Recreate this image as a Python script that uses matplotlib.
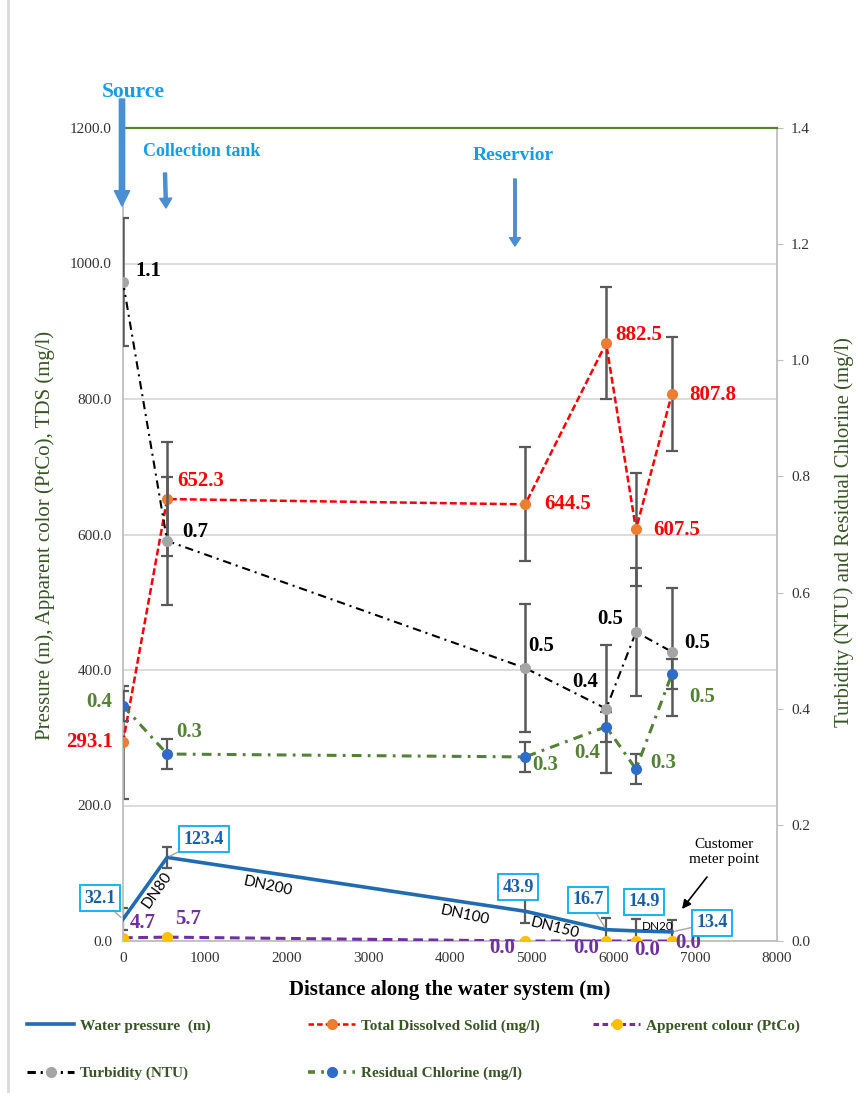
import matplotlib
matplotlib.use('Agg')
import matplotlib.pyplot as plt
from matplotlib.lines import Line2D
from matplotlib.patches import FancyArrowPatch
from matplotlib.ticker import FormatStrFormatter

plt.rcParams['font.family'] = ['Liberation Serif', 'DejaVu Serif']
plt.rcParams['lines.scale_dashes'] = False

# ---------------- data ----------------
distance = [0, 540, 4920, 5910, 6275, 6715]
pressure = [32.1, 123.4, 43.9, 16.7, 14.9, 13.4]
pressure_err = [16, 16, 18, 17, 18, 17]
tds = [293.1, 652.3, 644.5, 882.5, 607.5, 807.8]
tds_err = [84, 84, 84, 83, 84, 84]
colour = [4.7, 5.7, 0.0, 0.0, 0.0, 0.0]
turbidity = [1.135, 0.689, 0.470, 0.400, 0.532, 0.498]
turbidity_err = [0.11, 0.11, 0.11, 0.11, 0.11, 0.11]
chlorine = [0.405, 0.322, 0.317, 0.369, 0.296, 0.460]
chlorine_err = [0.026, 0.026, 0.026, 0.026, 0.026, 0.026]
pipe_labels = ['DN80', 'DN200', 'DN100', 'DN150', 'DN20']
pipe_pos = [(416, 75), (1774, 81), (4183, 38), (5284, 19), (6544, 21)]
stations = ['Source', 'Collection tank', 'Reservior']
x_ticks = [0, 1000, 2000, 3000, 4000, 5000, 6000, 7000, 8000]
left_ticks = [0, 200, 400, 600, 800, 1000, 1200]
right_ticks = [0.0, 0.2, 0.4, 0.6, 0.8, 1.0, 1.2, 1.4]

# ---------------- colours ----------------
C_PRESS = '#1F6BB5'
C_TDS = '#FF0000'
C_TDS_M = '#ED7D31'
C_COL = '#7030A0'
C_COL_M = '#FFC000'
C_TURB = '#000000'
C_TURB_M = '#A5A5A5'
C_CL = '#548235'
C_CL_M = '#2F6BC9'
C_ERR = '#595959'
C_AX_TXT = '#375623'
C_STATION = '#139EE6'
C_ARROW = '#4A8FD4'

W, H = 856, 1093
fig = plt.figure(figsize=(W / 100, H / 100), dpi=100)
ax = fig.add_axes([123 / W, 152 / H, 654 / W, 813 / H])
ax2 = ax.twinx()

# ---------------- left axis series ----------------
ax.errorbar(distance, pressure, yerr=pressure_err, fmt='none', ecolor=C_ERR,
            elinewidth=1.6, capsize=3.5, capthick=1.6, zorder=2)
ax.errorbar(distance, tds, yerr=tds_err, fmt='none', ecolor=C_ERR,
            elinewidth=1.8, capsize=4, capthick=1.6, zorder=2)
ax.plot(distance, pressure, color=C_PRESS, lw=2.6, zorder=3)
ax.plot(distance, tds, color=C_TDS, lw=1.8, dashes=(5, 2.2), marker='o',
        ms=7, mfc=C_TDS_M, mec=C_TDS_M, zorder=4)
ax.plot(distance, colour, color=C_COL, lw=2.2, dashes=(7, 4), marker='o',
        ms=7, mfc=C_COL_M, mec=C_COL_M, zorder=4)

ax.set_xlim(0, 8000)
ax.set_ylim(0, 1200)
ax.set_xticks(x_ticks)
ax.set_yticks(left_ticks)
ax.yaxis.set_major_formatter(FormatStrFormatter('%.1f'))
ax.tick_params(axis='both', length=0, labelsize=11, colors='#333333', pad=8)
ax.grid(axis='y', color='#D9D9D9', lw=1.3, zorder=0)
ax.set_axisbelow(True)
for s in ['left', 'bottom']:
    ax.spines[s].set_color('#BFBFBF')
    ax.spines[s].set_linewidth(1.3)
ax.spines['right'].set_visible(False)
ax.spines['top'].set_color(C_CL)
ax.spines['top'].set_linewidth(1.5)

# ---------------- right axis series ----------------
ax2.errorbar(distance, turbidity, yerr=turbidity_err, fmt='none', ecolor=C_ERR,
             elinewidth=1.8, capsize=4, capthick=1.6, zorder=2)
ax2.errorbar(distance, chlorine, yerr=chlorine_err, fmt='none', ecolor=C_ERR,
             elinewidth=1.6, capsize=4, capthick=1.6, zorder=2)
ax2.plot(distance, turbidity, color=C_TURB, lw=1.5, dashes=(6, 3.5, 1.5, 3.5),
         marker='o', ms=7, mfc=C_TURB_M, mec=C_TURB_M, zorder=4)
ax2.plot(distance, chlorine, color=C_CL, lw=2.2, dashes=(7, 4.5, 2, 4.5),
         marker='o', ms=7, mfc=C_CL_M, mec=C_CL_M, zorder=4)
ax2.set_ylim(0, 1.4)
ax2.set_yticks(right_ticks)
ax2.yaxis.set_major_formatter(FormatStrFormatter('%.1f'))
ax2.tick_params(axis='y', length=4, color='#BFBFBF', labelsize=11,
                labelcolor='#333333', pad=6)
ax2.spines['right'].set_color('#BFBFBF')
ax2.spines['right'].set_linewidth(1.3)
ax2.spines['left'].set_visible(False)
ax2.spines['bottom'].set_visible(False)
ax2.spines['top'].set_color(C_CL)
ax2.spines['top'].set_linewidth(1.5)

# ---------------- data labels ----------------
lab_kw = dict(textcoords='offset pixels', ha='center', va='center',
              fontsize=15, fontweight='bold', zorder=6)
turb_off = [(25, 11), (28, 9), (16, 22), (-21, 27), (-26, 13), (25, 9)]
for x, v, o in zip(distance, turbidity, turb_off):
    ax2.annotate(f'{v:.1f}', (x, v), xytext=o, color='#000000', **lab_kw)

tds_off = [(-33, 0), (34, 18), (42, 0), (33, 8), (41, -1), (41, -1)]
for x, v, o in zip(distance, tds, tds_off):
    ax.annotate(f'{v:.1f}', (x, v), xytext=o, color=C_TDS, **lab_kw)

cl_off = [(-24, 4), (22, 22), (20, -8), (-19, -26), (27, 6), (30, -23)]
for x, v, o in zip(distance, chlorine, cl_off):
    ax2.annotate(f'{v:.1f}', (x, v), xytext=o, color=C_CL, **lab_kw)

col_off = [(20, 15), (21, 18), (-23, -7), (-20, -7), (11, -9), (16, -2)]
for x, v, o in zip(distance, colour, col_off):
    ax.annotate(f'{v:.1f}', (x, v), xytext=o, color=C_COL, **lab_kw)

press_off = [(-23, 21), (37, 18), (-7, 24), (-18, 30), (8, 29), (40, 9)]
press_leader = [True, True, False, True, False, True]
for x, v, o, ld in zip(distance, pressure, press_off, press_leader):
    ap = dict(arrowstyle='-', color='#A6A6A6', lw=1.0, shrinkA=0, shrinkB=2) if ld else None
    ax.annotate(f'{v:.1f}', (x, v), xytext=o, textcoords='offset pixels',
                ha='center', va='center', fontsize=13, fontweight='bold',
                color='#1560AD', zorder=7, arrowprops=ap,
                bbox=dict(boxstyle='square,pad=0.25', fc='white',
                          ec='#00B0F0', lw=1.3))

# ---------------- pipe labels ----------------
pipe_rot = [55, -12, -12, -14, 0]
pipe_size = [11, 11, 11, 11, 8.5]
for t, (px, py), r, fs in zip(pipe_labels, pipe_pos, pipe_rot, pipe_size):
    ax.text(px, py, t, rotation=r, ha='center', va='center', fontsize=fs,
            family=['Lato', 'DejaVu Sans'], color='#000000', zorder=5,
            rotation_mode='anchor')

# ---------------- station arrows and texts ----------------
def fp(x, y):
    return (x, H - y)

fig.text(133 / W, 1 - 92 / H, stations[0], ha='center', va='center',
         fontsize=15.5, fontweight='bold', color=C_STATION)
fig.text(202 / W, 1 - 151 / H, stations[1], ha='center', va='center',
         fontsize=13, fontweight='bold', color=C_STATION)
fig.text(513 / W, 1 - 155 / H, stations[2], ha='center', va='center',
         fontsize=14, fontweight='bold', color=C_STATION)

for (x0, y0, x1, y1, w, hw, hl) in [(122, 99, 122, 206, 3.8, 11, 11),
                                     (165, 173, 166, 208, 2.2, 8.6, 7),
                                     (515, 179, 515, 246, 1.8, 8, 6)]:
    fig.add_artist(FancyArrowPatch(
        fp(x0, y0), fp(x1, y1), transform=None,
        arrowstyle=f'simple,head_length={hl},head_width={hw},tail_width={w}',
        mutation_scale=1, color=C_ARROW, shrinkA=0, shrinkB=0, zorder=10))

fig.text(724 / W, 1 - 852 / H, 'Customer\nmeter point', ha='center',
         va='center', fontsize=11, color='#000000', linespacing=1.15)
fig.add_artist(FancyArrowPatch(
    fp(707, 877), fp(682, 909), transform=None, arrowstyle='-|>',
    mutation_scale=13, color='#000000', lw=1.2, shrinkA=0, shrinkB=0))

# ---------------- axis titles ----------------
fig.text(45 / W, 1 - 535 / H, 'Pressure (m), Apparent color (PtCo), TDS (mg/l)',
         rotation=90, ha='center', va='center', fontsize=15, color=C_AX_TXT)
fig.text(854 / W, 1 - 532 / H, 'Turbidity (NTU) and Residual Chlorine (mg/l)',
         rotation=90, ha='right', va='center', fontsize=15, color=C_AX_TXT)
fig.text(450 / W, 1 - 990 / H, 'Distance along the water system (m)',
         ha='center', va='center', fontsize=15, fontweight='bold',
         color='#000000')

# figure border (left edge)
fig.add_artist(Line2D([8 / W, 8 / W], [0, 1], color='#D9D9D9', lw=2,
                      transform=fig.transFigure))

# ---------------- legends ----------------
h_press = Line2D([], [], color=C_PRESS, lw=2.6)
h_tds = Line2D([], [], color=C_TDS, lw=1.8, dashes=(4, 2.2), marker='o', ms=7,
               mfc=C_TDS_M, mec=C_TDS_M)
h_col = Line2D([], [], color=C_COL, lw=2.2, dashes=(4, 2.5), marker='o', ms=7,
               mfc=C_COL_M, mec=C_COL_M)
h_turb = Line2D([], [], color=C_TURB, lw=2.2, dashes=(6, 3.5, 1.5, 3.5),
                marker='o', ms=7, mfc=C_TURB_M, mec=C_TURB_M)
h_cl = Line2D([], [], color=C_CL, lw=2.6, dashes=(5, 4.5, 2, 4.5), marker='o',
              ms=7, mfc=C_CL_M, mec=C_CL_M)

leg_kw = dict(loc='upper left', frameon=False, borderaxespad=0, borderpad=0,
              handlelength=3.1, handletextpad=0.4, labelspacing=2.2,
              prop=dict(family='Liberation Serif', weight='bold', size=11),
              labelcolor=C_AX_TXT)
groups = [([h_press, h_turb], ['Water pressure  (m)', 'Turbidity (NTU)'], 27),
          ([h_tds, h_cl], ['Total Dissolved Solid (mg/l)', 'Residual Chlorine (mg/l)'], 308),
          ([h_col], ['Apperent colour (PtCo)'], 593)]
for hs, ls, lx in groups:
    fig.legend(hs, ls, bbox_to_anchor=(lx / W, 1 - 1019 / H), **leg_kw)

fig.savefig('out.png', dpi=100)
